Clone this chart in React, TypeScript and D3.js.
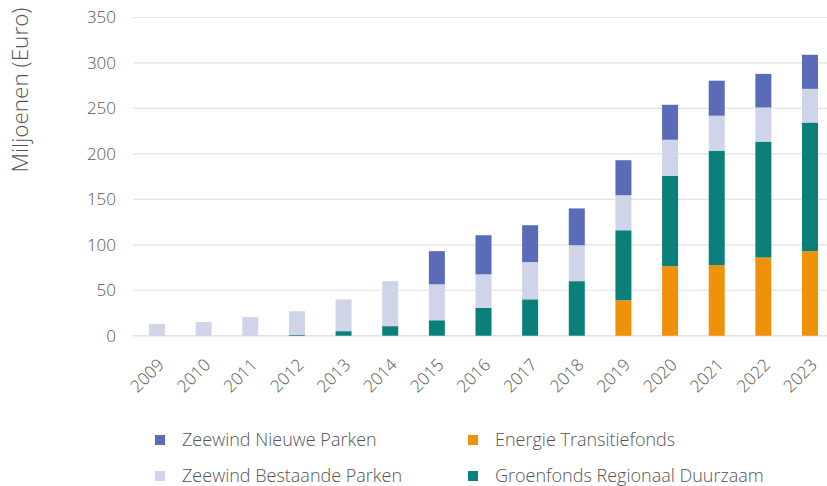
import React from 'react';
import * as d3 from 'd3';

const years = ['2009', '2010', '2011', '2012', '2013', '2014', '2015', '2016', '2017', '2018', '2019', '2020', '2021', '2022', '2023'];
const energieTransitiefonds = [0, 0, 0, 0, 0, 0, 0, 0, 0, 0, 39, 76.5, 77.5, 86, 93];
const groenfondsRegionaal = [0, 0, 0, 1, 5, 10.5, 17, 30.5, 40, 60, 77, 99.5, 126, 127.5, 141.5];
const zeewindBestaande = [13, 15, 20.5, 26, 35, 49.5, 39.5, 37, 41, 39.5, 38.5, 39.5, 38.5, 37.5, 37];
const zeewindNieuwe = [0, 0, 0, 0, 0, 0, 36.5, 43, 40.5, 40.5, 38.5, 38.5, 38.5, 37, 37.5];
const yTicks = [0, 50, 100, 150, 200, 250, 300, 350];

const seriesKeys = ['energie', 'groen', 'bestaande', 'nieuwe'];
const colors: Record<string, string> = {
  energie: '#f0910a',
  groen: '#0b807b',
  bestaande: '#cfd4e9',
  nieuwe: '#5a6bb8',
};
const legendItems = [
  { key: 'nieuwe', label: 'Zeewind Nieuwe Parken', col: 0, row: 0 },
  { key: 'energie', label: 'Energie Transitiefonds', col: 1, row: 0 },
  { key: 'bestaande', label: 'Zeewind Bestaande Parken', col: 0, row: 1 },
  { key: 'groen', label: 'Groenfonds Regionaal Duurzaam', col: 1, row: 1 },
];

const W = 827, H = 486;
const font = '"Open Sans", Lato, sans-serif';
const textColor = '#555';

export default function App() {
  const rows = years.map((y, i) => ({
    year: y,
    energie: energieTransitiefonds[i],
    groen: groenfondsRegionaal[i],
    bestaande: zeewindBestaande[i],
    nieuwe: zeewindNieuwe[i],
  }));
  const stacked = d3.stack<any>().keys(seriesKeys)(rows);

  const x = d3.scaleBand().domain(years).range([133, 834]).paddingInner(0.657).paddingOuter(0.343);
  const y = d3.scaleLinear().domain([0, 350]).range([335.7, 17.5]);

  return (
    <div style={{ position: 'absolute', left: 0, top: 0 }}>
      <svg width={W} height={H} style={{ display: 'block', fontFamily: font, fontWeight: 300 }}>
        <rect width={W} height={H} fill="#fff" />
        {yTicks.map(t => (
          <g key={t}>
            <line x1={133} x2={834} y1={y(t)} y2={y(t)} stroke="#e2e2e2" strokeWidth={t === 0 ? 1.6 : 1.2} />
            <text x={116} y={y(t)} dy="0.35em" textAnchor="end" fontSize={17} fill={textColor}>{t}</text>
          </g>
        ))}
        <text transform="translate(28,90) rotate(-90)" textAnchor="middle" fontSize={22.5} fill={textColor}>Miljoenen (Euro)</text>
        {stacked.map(s => (
          <g key={s.key} fill={colors[s.key]}>
            {s.map((d, i) => (
              <rect key={i} x={x(years[i])} width={x.bandwidth()} y={y(d[1])} height={Math.max(0, y(d[0]) - y(d[1]))} />
            ))}
          </g>
        ))}
        {years.map(yr => {
          const cx = (x(yr) as number) + x.bandwidth() / 2;
          return (
            <text key={yr} transform={`translate(${cx + 8},${366}) rotate(-45)`} textAnchor="end" fontSize={17} fill={textColor}>{yr}</text>
          );
        })}
        {legendItems.map(it => {
          const lx = it.col === 0 ? 155 : 468;
          const ly = it.row === 0 ? 440 : 476;
          return (
            <g key={it.key}>
              <rect x={lx} y={ly - 5} width={10} height={10} fill={colors[it.key]} />
              <text x={lx + 27} y={ly} dy="0.35em" fontSize={18} fill={textColor}>{it.label}</text>
            </g>
          );
        })}
      </svg>
    </div>
  );
}
